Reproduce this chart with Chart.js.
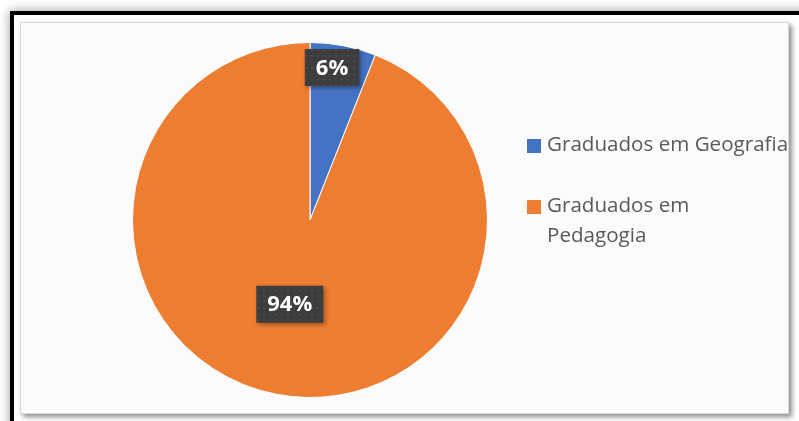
<!DOCTYPE html>
<html>
<head>
<meta charset="utf-8">
<script src="https://cdn.jsdelivr.net/npm/chart.js@4/dist/chart.umd.min.js"></script>
<style>
  body { margin: 0; background: #fff; width: 799px; height: 421px; overflow: hidden; position: relative; }
  #frame { position: absolute; left: 10px; top: 11px; width: 900px; height: 500px;
           border-left: 4px solid #000; border-top: 4px solid #000;
           box-shadow: 0 0 10px rgba(0,0,0,0.4); background: #fff; }
  #panel { position: absolute; left: 20px; top: 22px; width: 767px; height: 390px;
           border: 1px solid #d9d9d9; background: #fbfbfb;
           box-shadow: 3px 3px 5px rgba(0,0,0,0.45); }
  #panel canvas { position: absolute; left: 0; top: 0; }
</style>
</head>
<body>
<div id="frame"></div>
<div id="panel"><canvas id="pieChart" width="767" height="390"></canvas></div>
<script>
const categories = ['Graduados em Geografia', 'Graduados em Pedagogia'];
const legendLines = [['Graduados em Geografia'], ['Graduados em', 'Pedagogia']];
const values = [6, 94];
const labelTexts = ['6%', '94%'];
const colors = ['#4472C4', '#ED7D31'];

// where each label sits: fraction along the slice, fraction of radius
const labelAngle = [0.38, 0.508];
const labelRadius = [0.868, 0.488];

function dotPattern(ctx) {
  const c = document.createElement('canvas');
  c.width = 6; c.height = 6;
  const p = c.getContext('2d');
  p.fillStyle = '#3d3d3d';
  p.fillRect(0, 0, 6, 6);
  p.fillStyle = '#4b4b4b';
  p.fillRect(2, 2, 2, 2);
  return ctx.createPattern(c, 'repeat');
}

const labelPlugin = {
  id: 'boxLabels',
  afterDatasetsDraw(chart) {
    const ctx = chart.ctx;
    const meta = chart.getDatasetMeta(0);
    ctx.save();
    ctx.font = 'bold 22px "Open Sans", sans-serif';
    ctx.textAlign = 'center';
    ctx.textBaseline = 'middle';
    meta.data.forEach((arc, i) => {
      const p = arc.getProps(['x', 'y', 'startAngle', 'endAngle', 'outerRadius']);
      const a = p.startAngle + (p.endAngle - p.startAngle) * labelAngle[i];
      const r = p.outerRadius * labelRadius[i];
      const cx = p.x + Math.cos(a) * r;
      const cy = p.y + Math.sin(a) * r;
      const w = ctx.measureText(labelTexts[i]).width + 22;
      const h = 37;
      ctx.save();
      ctx.shadowColor = 'rgba(0,0,0,0.35)';
      ctx.shadowBlur = 4;
      ctx.shadowOffsetX = 2;
      ctx.shadowOffsetY = 2;
      ctx.fillStyle = dotPattern(ctx);
      ctx.fillRect(cx - w / 2, cy - h / 2, w, h);
      ctx.restore();
      ctx.fillStyle = '#ffffff';
      ctx.fillText(labelTexts[i], cx, cy + 1);
    });
    ctx.restore();
  }
};

const legendPlugin = {
  id: 'sideLegend',
  afterDraw(chart) {
    const ctx = chart.ctx;
    const x = 506;
    const tops = [116, 177];
    ctx.save();
    ctx.font = '20.6px "Open Sans", sans-serif';
    ctx.textBaseline = 'middle';
    categories.forEach((c, i) => {
      ctx.fillStyle = colors[i];
      ctx.fillRect(x, tops[i], 14, 14);
      ctx.fillStyle = '#595959';
      legendLines[i].forEach((line, j) => {
        ctx.fillText(line, x + 20, tops[i] + 6 + j * 30);
      });
    });
    ctx.restore();
  }
};

new Chart(document.getElementById('pieChart'), {
  type: 'pie',
  data: {
    labels: categories,
    datasets: [{
      data: values,
      backgroundColor: colors,
      borderColor: '#ffffff',
      borderWidth: 1
    }]
  },
  options: {
    responsive: false,
    animation: false,
    layout: { padding: { left: 111, right: 300, top: 19, bottom: 15 } },
    plugins: {
      legend: { display: false },
      tooltip: { enabled: false }
    }
  },
  plugins: [labelPlugin, legendPlugin]
});
</script>
</body>
</html>
